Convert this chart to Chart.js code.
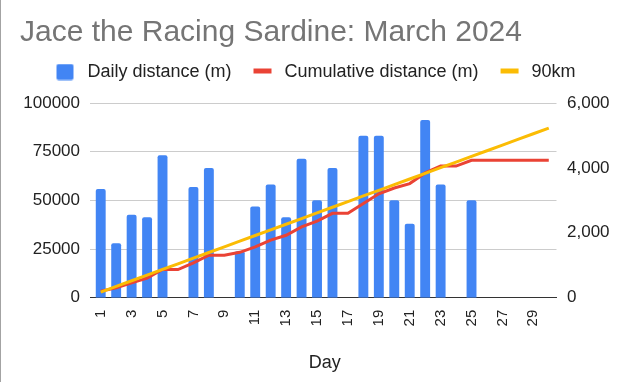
<!DOCTYPE html>
<html>
<head>
<meta charset="utf-8">
<script src="https://cdn.jsdelivr.net/npm/chart.js@4.4.1/dist/chart.umd.min.js"></script>
<style>
html,body{margin:0;padding:0;background:#fff;}
#wrap{position:relative;width:630px;height:382px;overflow:hidden;}
#c{position:absolute;left:0;top:0;}
#edge{position:absolute;left:0;top:0;width:1px;height:382px;background:#a3a3a3;}
</style>
</head>
<body>
<div id="wrap"><canvas id="c" width="630" height="382"></canvas><div id="edge"></div></div>
<script>
// ---- data ----
const days = ['1','2','3','4','5','6','7','8','9','10','11','12','13','14','15','16','17','18','19','20','21','22','23','24','25','26','27','28','29','30'];
const dailyDistance = [3350,1680,2560,2480,4390,null,3410,4000,null,1430,2810,3490,2480,4280,3000,4000,null,4990,4990,3000,2280,5480,3490,null,3000,null,null,null,null,null];
const cumulativeDistance = [3350,5030,7590,10070,14460,14460,17870,21870,21870,23300,26110,29600,32080,36360,39360,43360,43360,48350,53340,56340,58620,64100,67590,67590,70590,70590,70590,70590,70590,70590];
const target90km = [2903,5806,8710,11613,14516,17419,20323,23226,26129,29032,31935,34839,37742,40645,43548,46452,49355,52258,55161,58065,60968,63871,66774,69677,72581,75484,78387,81290,84194,87097];
const leftTicks = [0,25000,50000,75000,100000];
const rightTicks = [0,2000,4000,6000];
const seriesNames = ['Daily distance (m)','Cumulative distance (m)','90km'];

const FONT = "'Liberation Sans', Arial, sans-serif";
const BLUE = '#4285f4', RED = '#ea4335', YELLOW = '#fbbc04';

function legendImg(color, kind) {
  const cv = document.createElement('canvas');
  cv.width = 34; cv.height = 17;
  const g = cv.getContext('2d');
  g.fillStyle = color;
  if (kind === 'box') {
    g.beginPath();
    if (g.roundRect) g.roundRect(12, 0.5, 17, 16, 2); else g.rect(12, 0.5, 17, 16);
    g.fill();
  } else {
    g.fillRect(12, 5, 18, 5);
  }
  return cv;
}
const legendImgs = [legendImg(BLUE,'box'), legendImg(RED,'line'), legendImg(YELLOW,'line')];

// extra gap below the legend, and legend centred as in the reference
const legendTweak = {
  id: 'legendTweak',
  beforeLayout(chart) {
    const lg = chart.legend;
    if (lg && !lg._patched) {
      const orig = lg.fit.bind(lg);
      lg.fit = function () { orig(); this.height += 12; this.minSize && (this.minSize.height = this.height); };
      lg._patched = true;
    }
  },
  afterLayout(chart) {
    const lg = chart.legend;
    if (lg) { lg.left = 20; lg.right = 600; lg.width = 580; }
  }
};

new Chart(document.getElementById('c'), {
  data: {
    labels: days,
    datasets: [
      { type: 'bar', label: seriesNames[0], data: dailyDistance, yAxisID: 'yR',
        backgroundColor: BLUE, borderRadius: {topLeft: 2, topRight: 2, bottomLeft: 0, bottomRight: 0},
        borderSkipped: 'start', barPercentage: 0.64, categoryPercentage: 1, order: 3 },
      { type: 'line', label: seriesNames[1], data: cumulativeDistance, yAxisID: 'yL',
        borderColor: RED, backgroundColor: RED, borderWidth: 3, pointRadius: 0, tension: 0, order: 2 },
      { type: 'line', label: seriesNames[2], data: target90km, yAxisID: 'yL',
        borderColor: YELLOW, backgroundColor: YELLOW, borderWidth: 3, pointRadius: 0, tension: 0, order: 1 }
    ]
  },
  plugins: [legendTweak],
  options: {
    responsive: false,
    animation: false,
    layout: { padding: { left: 20, right: 0, top: 5, bottom: 8 } },
    plugins: {
      tooltip: { enabled: false },
      title: {
        display: true, text: 'Jace the Racing Sardine: March 2024', align: 'start',
        color: '#757575', font: { family: FONT, size: 30, weight: 'normal' },
        padding: { top: 10, bottom: 2 }
      },
      legend: {
        display: true, position: 'top', align: 'center',
        labels: {
          usePointStyle: true, pointStyleWidth: 34, boxHeight: 17, padding: 10,
          color: '#222', font: { family: FONT, size: 18 },
          sort: (a, b) => a.datasetIndex - b.datasetIndex,
          generateLabels: (chart) => Chart.defaults.plugins.legend.labels.generateLabels(chart).map(it => {
            it.pointStyle = legendImgs[it.datasetIndex];
            return it;
          })
        }
      }
    },
    scales: {
      x: {
        grid: { display: false, drawTicks: false },
        border: { display: true, color: '#333', width: 1 },
        ticks: {
          autoSkip: false, minRotation: 90, maxRotation: 90, padding: 12,
          color: '#222', font: { family: FONT, size: 15 },
          callback: (v, i) => (i % 2 === 0 ? days[i] : '')
        },
        title: { display: true, text: 'Day', color: '#222', font: { family: FONT, size: 18 }, padding: { top: 14, bottom: 0 } }
      },
      yL: {
        position: 'left', min: 0, max: 100000,
        afterBuildTicks: (s) => { s.ticks = leftTicks.map(v => ({ value: v })); },
        afterFit: (s) => { s.width = 73; },
        grid: { color: '#cccccc', lineWidth: 1, drawTicks: true, tickLength: 3,
                tickColor: (ctx) => (ctx.tick && ctx.tick.value === 0 ? '#333' : '#cccccc') },
        border: { display: false },
        ticks: { padding: 10, color: '#222', font: { family: FONT, size: 17 }, callback: (v) => String(v) }
      },
      yR: {
        position: 'right', min: 0, max: 6000,
        afterBuildTicks: (s) => { s.ticks = rightTicks.map(v => ({ value: v })); },
        afterFit: (s) => { s.width = 73.5; },
        grid: { display: false, drawTicks: false },
        border: { display: false },
        ticks: { padding: 10.5, color: '#222', font: { family: FONT, size: 17 },
                 callback: (v) => Number(v).toLocaleString('en-US') }
      }
    }
  }
});
</script>
</body>
</html>
